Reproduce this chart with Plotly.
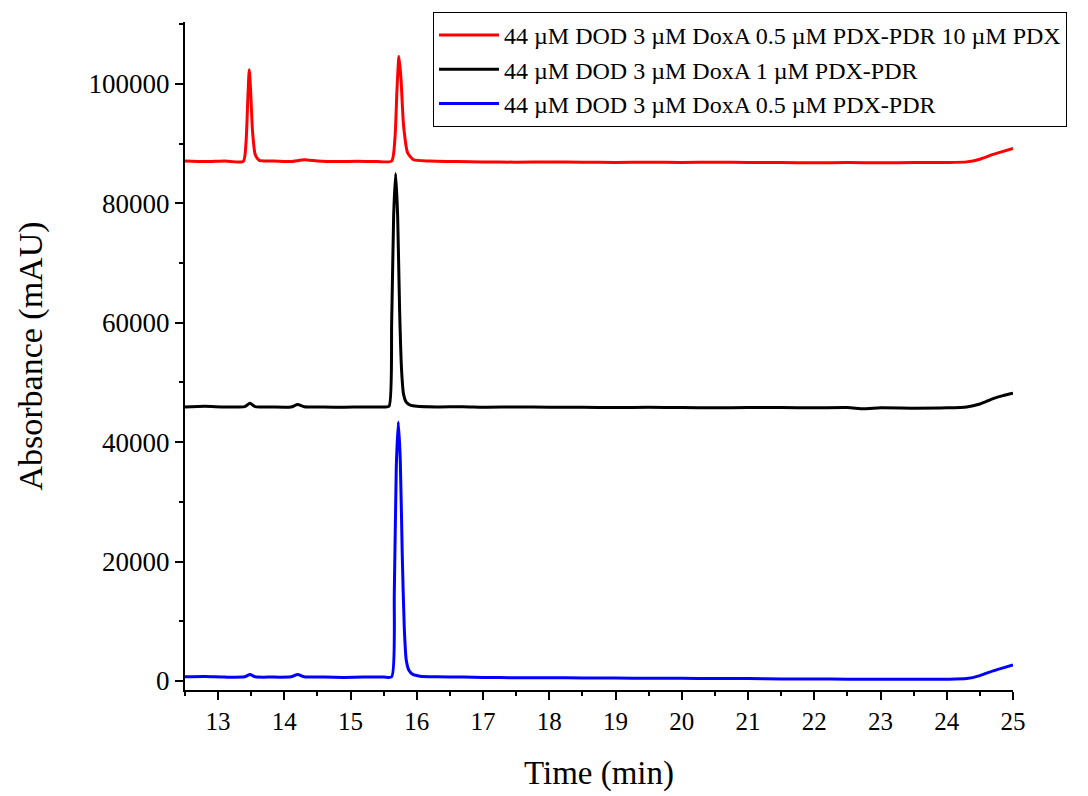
import plotly.graph_objects as go

# Red trace: 44 µM DOD 3 µM DoxA 0.5 µM PDX-PDR 10 µM PDX
t_red = [12.5, 12.8, 13.1, 13.38, 13.42, 13.45, 13.47, 13.49, 13.52, 13.56, 13.62, 13.8, 14.1, 14.3,
         14.5, 14.8, 15.1, 15.4, 15.62, 15.67, 15.7, 15.73, 15.76, 15.8, 15.86, 15.95, 16.2, 16.6,
         17.0, 17.5, 18.0, 18.5, 19.0, 19.5, 20.0, 20.5, 21.0, 21.5, 22.0, 22.5, 23.0, 23.5, 24.0,
         24.3, 24.5, 24.7, 24.85, 25.0]
y_red = [87100, 87000, 87100, 87050, 90000, 98000, 102400, 99000, 92000, 88200, 87200, 87100, 87000, 87300,
         87100, 87000, 87050, 87000, 87100, 91000, 99000, 104600, 101000, 93000, 88500, 87300, 87100, 87000,
         86950, 86900, 86950, 86900, 86850, 86900, 86850, 86900, 86850, 86850, 86800, 86850, 86800, 86850, 86850,
         86950, 87400, 88200, 88700, 89200]

# Black trace: 44 µM DOD 3 µM DoxA 1 µM PDX-PDR
t_black = [12.5, 12.8, 13.1, 13.4, 13.48, 13.56, 13.8, 14.1, 14.2, 14.3, 14.6, 14.9, 15.2, 15.5,
           15.58, 15.62, 15.65, 15.68, 15.71, 15.74, 15.77, 15.8, 15.84, 15.9, 16.0, 16.3, 16.7,
           17.0, 17.5, 18.0, 18.5, 19.0, 19.5, 20.0, 20.5, 21.0, 21.5, 22.0, 22.5, 22.75, 23.0,
           23.5, 24.0, 24.3, 24.5, 24.7, 24.85, 25.0]
y_black = [45900, 46000, 45900, 45950, 46500, 45950, 45900, 45900, 46300, 45950, 45900, 45850, 45900, 45900,
           46000, 60000, 78000, 85000, 78000, 62000, 52000, 48000, 46700, 46200, 46000, 45900, 45950,
           45850, 45900, 45850, 45850, 45800, 45850, 45800, 45750, 45800, 45800, 45750, 45800, 45600, 45750,
           45700, 45750, 45900, 46400, 47300, 47800, 48200]

# Blue trace: 44 µM DOD 3 µM DoxA 0.5 µM PDX-PDR
t_blue = [12.5, 12.8, 13.1, 13.4, 13.48, 13.56, 13.8, 14.1, 14.2, 14.3, 14.6, 14.9, 15.2, 15.5,
          15.62, 15.66, 15.69, 15.72, 15.75, 15.78, 15.81, 15.84, 15.88, 15.94, 16.05, 16.3, 16.7,
          17.0, 17.5, 18.0, 18.5, 19.0, 19.5, 20.0, 20.5, 21.0, 21.5, 22.0, 22.5, 23.0, 23.5,
          24.0, 24.3, 24.5, 24.7, 24.85, 25.0]
y_blue = [700, 750, 650, 700, 1100, 700, 650, 700, 1100, 700, 650, 600, 650, 650,
          700, 15000, 36000, 43400, 37000, 21000, 9000, 3500, 1800, 1100, 800, 700, 650,
          600, 550, 550, 500, 500, 450, 450, 400, 400, 350, 350, 300, 300, 300,
          300, 400, 900, 1700, 2200, 2700]

names = ["44 µM DOD 3 µM DoxA 0.5 µM PDX-PDR 10 µM PDX",
         "44 µM DOD 3 µM DoxA 1 µM PDX-PDR",
         "44 µM DOD 3 µM DoxA 0.5 µM PDX-PDR"]
colors = ["#FF0000", "#000000", "#0000FF"]

FONT = "Liberation Serif, Times New Roman, serif"

fig = go.Figure()
for t, y, n, c in [(t_red, y_red, names[0], colors[0]),
                   (t_black, y_black, names[1], colors[1]),
                   (t_blue, y_blue, names[2], colors[2])]:
    fig.add_trace(go.Scatter(x=t, y=y, mode="lines", name=n,
                             line=dict(color=c, width=3, shape="spline", smoothing=0.6)))

fig.update_layout(
    width=1080, height=788,
    paper_bgcolor="white", plot_bgcolor="white",
    margin=dict(l=177, r=75, t=14, b=106, autoexpand=False),
    font=dict(family=FONT, color="black", size=24),
    showlegend=True,
    legend=dict(x=0.2995, y=1.015, xanchor="left", yanchor="top",
                bordercolor="black", borderwidth=1, bgcolor="white",
                font=dict(family=FONT, size=24, color="black"),
                tracegroupgap=0, itemwidth=60),
)
fig.update_xaxes(
    range=[12.5, 25], tickmode="linear", tick0=13, dtick=1, automargin=False,
    showline=True, linecolor="black", linewidth=2, mirror=False,
    ticks="outside", ticklen=8, tickwidth=2, tickcolor="black",
    minor=dict(ticks="outside", ticklen=4, tickwidth=2, tickcolor="black", dtick=0.5, tick0=12.5),
    showgrid=False, zeroline=False,
    tickfont=dict(family=FONT, size=25),
    title=dict(text="Time (min)", font=dict(family=FONT, size=33), standoff=27),
)
fig.update_yaxes(
    range=[-1510, 110380], tickmode="linear", tick0=0, dtick=20000, automargin=False,
    showline=True, linecolor="black", linewidth=2, mirror=False,
    ticks="outside", ticklen=8, tickwidth=2, tickcolor="black",
    minor=dict(ticks="outside", ticklen=4, tickwidth=2, tickcolor="black", dtick=10000),
    showgrid=False, zeroline=False,
    tickfont=dict(family=FONT, size=27), tickformat="d",
    title=dict(text="Absorbance (mAU)", font=dict(family=FONT, size=34), standoff=36),
)

fig.write_html("out.html")
